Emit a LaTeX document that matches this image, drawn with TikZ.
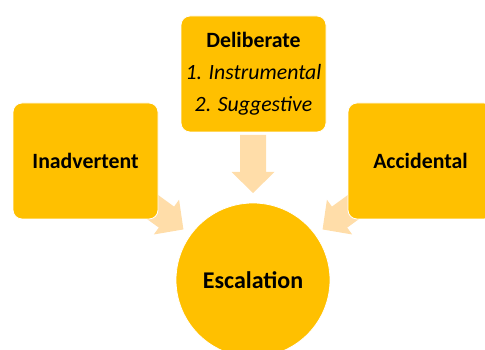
\documentclass[tikz,border=0pt]{standalone}
\usepackage{fontspec}
\setmainfont{Carlito}
\usetikzlibrary{calc}
\definecolor{gold}{RGB}{255,192,0}
\definecolor{peach}{RGB}{255,221,169}
\tikzset{
	box/.style={rectangle,rounded corners=9pt,fill=gold,draw=white,line width=0.8pt,minimum width=145pt,minimum height=116pt,inner sep=0pt,align=center,font=\fontsize{21.8}{26}\selectfont\bfseries},
	hub/.style={circle,fill=gold,draw=white,line width=0.8pt,minimum size=154pt,inner sep=0pt,font=\fontsize{24}{28}\selectfont\bfseries},
	fatarrow/.pic={\fill[peach] (0,0) -- (-21,21.5) -- (-21,13) -- (-58,13) -- (-58,-13) -- (-21,-13) -- (-21,-21.5) -- cycle;}
}
\begin{document}
\begin{tikzpicture}[x=1pt,y=1pt]
	\useasboundingbox (0,0) rectangle (485,350);
	\clip (0,0) rectangle (485,350);
	\coordinate (ctr) at (253,70);
	% arrows towards the hub
	\coordinate (tipL) at ($(ctr)+(144:86)$);
	\coordinate (tipD) at ($(ctr)+(90:87)$);
	\coordinate (tipR) at ($(ctr)+(36:86)$);
	\pic[rotate=-36] at (tipL) {fatarrow};
	\pic[rotate=-90] at (tipD) {fatarrow};
	\pic[rotate=-144] at (tipR) {fatarrow};
	% boxes
	\node[box] (inadv) at (85.5,189) {Inadvertent};
	\node[box,font=\fontsize{21.8}{32}\selectfont] (delib) at (253.5,276) {\textbf{Deliberate}\\\textit{1. Instrumental}\\\textit{2. Suggestive}};
	\node[box] (accid) at (420.5,189) {Accidental};
	\node[hub] (esc) at (ctr) {Escalation};
\end{tikzpicture}
\end{document}
